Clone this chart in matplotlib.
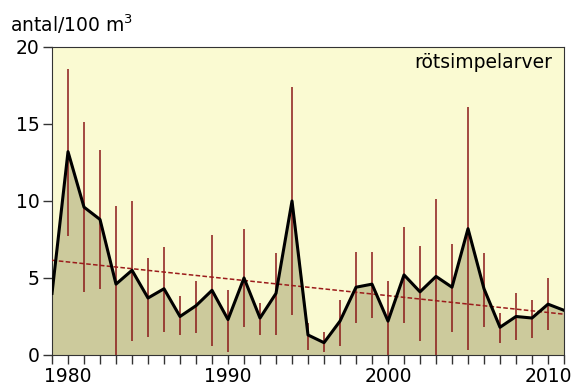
import numpy as np
import matplotlib.pyplot as plt

# Data
years = list(range(1979, 2012))
values = [4.0, 13.2, 9.6, 8.8, 4.6, 5.5, 3.7, 4.3, 2.5, 3.2, 4.2, 2.3, 5.0, 2.4, 4.0, 10.0,
          1.3, 0.8, 2.2, 4.4, 4.6, 2.2, 5.2, 4.1, 5.1, 4.4, 8.2, 4.3, 1.8, 2.5, 2.4, 3.3, 2.9]
err_low = [0.7, 7.7, 4.1, 4.3, 0.0, 0.9, 1.2, 1.5, 1.3, 1.4, 0.6, 0.2, 1.8, 1.3, 1.3, 2.6,
           0.3, 0.2, 0.6, 2.1, 2.4, 0.0, 2.1, 0.9, 0.0, 1.5, 0.3, 1.8, 0.8, 1.0, 1.1, 1.6, 2.9]
err_high = [7.2, 18.6, 15.1, 13.3, 9.7, 10.0, 6.3, 7.0, 3.8, 4.8, 7.8, 4.2, 8.2, 3.4, 6.6, 17.4,
            2.1, 1.5, 3.6, 6.7, 6.7, 4.8, 8.3, 7.1, 10.1, 7.2, 16.1, 6.6, 2.7, 4.0, 3.6, 5.0, 2.9]
trend_years = [1979, 2011]
trend_values = [6.15, 2.65]

plt.rcParams['font.family'] = ['DejaVu Sans']

fig = plt.figure(figsize=(5.74, 3.87), dpi=100)
ax = fig.add_axes([0.0906, 0.0827, 0.892, 0.796])
ax.set_facecolor('#FAFAD2')

# Fylld yta under kurvan
ax.fill_between(years, values, 0, color='#CCCA9C', zorder=1)

# Felstaplar
ax.vlines(years, err_low, err_high, color='#8B1A1A', lw=1.3, alpha=0.85, zorder=2)

# Trendlinje
ax.plot(trend_years, trend_values, color='#9B1B1B', lw=1.1, ls=(0, (3, 1.5)), zorder=3)

# Kurvan
ax.plot(years, values, color='black', lw=2.2, zorder=4)

ax.set_xlim(1979, 2011)
ax.set_ylim(0, 20)
ax.set_yticks([0, 5, 10, 15, 20])
ax.set_xticks([1980, 1990, 2000, 2010])
ax.set_xticks(years, minor=True)
ax.tick_params(axis='both', which='both', direction='out', length=6.5, width=1,
               color='#333333', labelsize=13.5)
ax.tick_params(axis='x', which='major', pad=2)
ax.tick_params(axis='y', which='major', pad=2.5)
for s in ax.spines.values():
    s.set_color('#333333')

fig.text(0.017, 0.917, 'antal/100 m$^3$', fontsize=13.5, ha='left', va='baseline')
ax.text(0.978, 0.98, 'rötsimpelarver', transform=ax.transAxes, fontsize=13.5,
        ha='right', va='top')

fig.savefig('out.png', dpi=100)
